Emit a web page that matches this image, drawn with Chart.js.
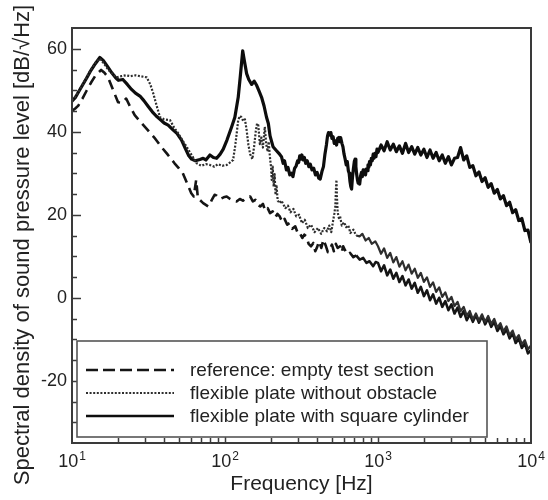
<!DOCTYPE html>
<html>
<head>
<meta charset="utf-8">
<script src="https://cdn.jsdelivr.net/npm/chart.js@4.4.0/dist/chart.umd.min.js"></script>
<style>
  html, body { margin: 0; padding: 0; background: #fff; }
  #wrap { width: 548px; height: 500px; }
</style>
</head>
<body>
<div id="wrap"><canvas id="grafico" width="548" height="500"></canvas></div>
<script>
// reference: empty test section (dashed)
var freqRef = [10,10.5,11,11.7,12.5,13.3,14.2,15.5,16.3,17.2,18.4,20,21.2,22.6,24,25.7,28,31.3,34.5,38.3,42,46.8,50,53,56.5,60.2,62.5,64.8,66.5,68.3,72,77.7,79.3,82,85.5,88.2,93,98,102.6,108,113,119,125,131,138,146,152,158,164,170,177,183,190,197,205,213,220,228,237,245,255,265,275,288,300,308,320,330,340,352,365,378,389,400,412,426,440,455,470,484,500,515,530,545,565,580,592,610,630,657,690,720,760,800,840,880,930,965,
  1000,1047,1096,1148,1202,1259,1318,1380,1445,1514,1585,1660,1738,1820,1905,1995,2089,2188,2291,2399,2512,2630,2754,2884,3020,3162,3311,3467,3631,3802,3981,4169,4365,4571,4786,5012,5248,5495,5754,6026,6310,6607,6918,7244,7586,7943,8318,8710,9120,9550,10000];
var splRef = [45.0,45.6,46.3,48.0,50.0,51.8,53.5,54.9,54.2,53.1,50.4,47.1,47.0,48.0,46.0,44.0,42.4,40.4,38.6,36.4,34.6,32.4,31.2,30.0,27.6,25.2,24.4,28.4,24.0,23.6,22.8,22.0,22.4,23.6,24.8,24.6,23.8,24.2,24.4,23.8,23.4,23.2,23.8,23.4,24.0,24.4,23.2,23.6,22.4,22.0,22.6,21.0,21.6,20.4,20.8,19.4,20.2,19.6,18.2,19.0,17.6,18.0,16.6,17.2,15.4,15.6,14.4,15.2,14.8,13.0,12.4,13.2,11.2,12.2,13.6,12.0,14.0,12.6,11.0,11.6,12.8,11.2,13.0,12.0,12.4,11.0,12.4,11.4,10.4,10.8,9.8,10.2,9.2,9.6,8.4,8.8,7.6,8.6,
  8.4,6.4,7.8,5.4,6.8,4.6,6.0,3.8,5.2,3.0,4.4,2.2,3.6,1.2,2.6,0.4,1.8,-0.6,0.8,-1.4,0.0,-2.2,-0.8,-3.0,-1.6,-3.8,-2.4,-4.6,-3.2,-5.4,-4.0,-5.8,-4.2,-6.0,-4.4,-6.4,-5.0,-7.0,-5.8,-8.0,-6.8,-8.8,-7.6,-9.8,-8.6,-10.9,-9.8,-12.1,-11.0,-13.4,-12.6];

// flexible plate without obstacle (dotted)
var freqPlate = [10,10.5,11,11.7,12.5,13.3,14.2,15.2,16.2,17.2,18.3,19.6,21,22.5,24,26,28,30.8,32.5,34,35.8,37.6,40,43.7,46.5,49.5,53,56.3,60,65.3,70,75,79.7,85,90,96,102.7,108,113,117,122,125,128,131.5,135,138.5,142,146,151,155,159,162,165,169,173,177,182,186,190,193,197,200,202,205,208,211,214,217,221,228,234,240,248,258,268,280,292,305,318,332,348,365,385,405,425,445,464,480,495,508,518,526,531,535,539,545,555,565,580,600,620,640,660,690,720,760,790,830,870,910,960,
  1000,1047,1096,1148,1202,1259,1318,1380,1445,1514,1585,1660,1738,1820,1905,1995,2089,2188,2291,2399,2512,2630,2754,2884,3020,3162,3311,3467,3631,3802,3981,4169,4365,4571,4786,5012,5248,5495,5754,6026,6310,6607,6918,7244,7586,7943,8318,8710,9120,9550,10000];
var splPlate = [47.6,48.4,49.6,51.3,53.2,55.0,56.6,57.6,56.4,55.0,54.0,53.1,53.4,53.6,53.4,53.6,53.4,53.1,51.4,49.2,46.2,43.5,43.0,42.8,41.0,39.6,37.8,36.3,34.6,32.4,31.8,32.2,32.0,31.6,32.2,31.8,32.0,32.6,33.2,37.0,42.8,43.8,43.5,42.6,43.0,40.4,37.0,34.6,33.4,36.5,40.2,42.0,41.6,37.0,38.6,36.2,41.2,37.0,35.2,37.6,33.6,31.4,28.4,31.6,26.8,29.8,24.8,27.2,23.4,22.8,23.4,22.6,21.6,22.2,20.6,21.4,19.6,20.0,18.0,18.8,16.8,17.6,15.8,16.8,15.4,16.8,16.0,17.4,15.8,18.4,20.2,22.0,26.0,28.4,24.4,20.6,19.2,19.6,17.4,18.2,17.0,17.4,15.6,16.4,15.0,14.8,15.4,13.8,14.4,13.0,13.6,12.4,
  10.6,11.9,9.6,10.8,8.5,9.8,7.5,8.8,6.6,8.0,5.8,7.0,4.8,6.0,3.8,4.9,2.6,3.7,1.4,2.5,0.2,1.3,-0.8,0.2,-2.0,-1.0,-3.2,-2.2,-4.3,-3.2,-5.2,-3.8,-5.5,-4.0,-5.8,-4.4,-6.3,-5.1,-7.2,-6.1,-8.1,-6.9,-9.0,-7.9,-10.0,-9.0,-11.2,-10.2,-12.4,-11.5,-13.8];

// flexible plate with square cylinder (solid)
var freqCyl = [10,10.5,11,11.7,12.5,13.3,14.2,15.2,16,17,18.2,19.3,20.1,21.5,23,24.5,26,27.8,29.5,31.5,33.5,35.5,37.6,40,42.5,45.9,48.5,52,55,58,60.5,64,68.6,72,75,79.7,84,88.2,93,97.4,103,110.6,116,122,126,130.5,134,138.5,143,149.4,155,161,167,173.4,180,186.8,192,197,206,215,225,
  234,240,245,252,258,265,272,278,285,292,298,303,308,313,318,324,330,337,345,353,361,370,380,390,400,410,419,430,440,450,460,468,475,485,492,500,509,518,527,536,545,555,563,570,581,590,600,610,620,630,640,648,656,664,672,681,690,700,709,717,725,734,742,750,759,770,780,790,800,810,820,829,838,849,860,870,880,892,905,917,930,943,956,970,985,
  1000,1047,1096,1148,1202,1259,1318,1380,1445,1514,1585,1660,1738,1820,1905,1995,2089,2188,2291,2399,2512,2630,2754,2884,3020,3162,3311,3467,3631,3802,3981,4169,4365,4571,4786,5012,5248,5495,5754,6026,6310,6607,6918,7244,7586,7943,8318,8710,9120,9550,10000];
var splCyl = [47.4,48.2,49.5,51.2,53.0,54.8,56.4,57.9,57.2,55.8,54.2,53.0,52.4,52.6,51.4,50.2,49.3,48.6,47.5,46.1,44.8,43.8,43.0,42.1,41.6,40.4,39.6,38.0,36.0,34.2,33.4,33.0,33.3,33.6,33.2,34.4,33.8,33.6,34.6,35.8,38.0,41.2,43.5,48.3,53.5,59.5,57.0,54.0,52.6,51.4,52.2,51.2,49.8,48.3,46.2,43.5,42.0,39.0,36.4,35.6,34.8,
  34.0,32.4,33.0,30.8,31.4,29.6,30.0,29.2,31.2,31.8,33.0,32.6,34.2,33.4,34.4,33.2,33.8,32.4,33.0,31.6,32.2,30.8,31.2,29.6,30.2,28.8,28.6,30.4,31.6,34.6,36.8,39.0,39.8,39.2,39.8,38.4,38.8,37.2,37.8,36.8,38.4,38.6,37.6,38.6,37.2,36.4,34.6,33.4,32.0,32.8,30.6,30.0,28.0,26.8,26.2,29.0,31.0,32.8,33.4,31.6,29.8,28.4,27.6,28.2,27.4,29.4,30.2,29.2,30.8,29.8,30.4,29.6,31.0,30.6,32.0,31.4,32.8,32.0,33.6,33.0,34.6,33.6,34.8,34.0,35.8,
  35.0,36.8,35.4,37.6,35.6,37.0,35.2,36.6,34.8,37.2,35.0,36.4,34.6,36.2,34.4,35.8,33.8,35.6,33.6,35.0,33.0,34.4,32.4,34.0,32.0,33.6,33.8,36.2,33.2,34.2,31.4,31.8,29.4,30.3,28.0,28.9,26.6,27.5,25.2,26.1,23.8,24.6,22.2,23.0,20.5,21.2,18.6,19.1,16.2,16.3,13.2];

var yTickValues = [-20, 0, 20, 40, 60];
var xDecades = [10, 100, 1000, 10000];
var xExponents = ['1', '2', '3', '4'];
var legendLabels = ['reference: empty test section', 'flexible plate without obstacle', 'flexible plate with square cylinder'];

var fuente = '"Liberation Sans", Arial, Helvetica, sans-serif';
var tinta = '#222';

function pares(fs, vs) {
  return fs.map(function (f, i) { return { x: f, y: vs[i] }; });
}

var estilos = [
  { color: '#151515', width: 2.6, dash: [10, 6] },
  { color: '#2e2e2e', width: 2.2, dash: [2, 1.6] },
  { color: '#0d0d0d', width: 3.2, dash: [] }
];

// above ~700 Hz the measured spectra are so dense that dashes merge into one band
function trazoDenso(dash) {
  return function (c) { return c.p0.parsed.x >= 700 ? [] : dash; };
}

var marco = {
  id: 'marco',
  afterDraw: function (chart) {
    var ctx = chart.ctx, a = chart.chartArea;
    var xs = chart.scales.x, ys = chart.scales.y;
    ctx.save();

    // frame
    ctx.strokeStyle = '#3a3a3a';
    ctx.lineWidth = 2;
    ctx.strokeRect(a.left, a.top, a.right - a.left, a.bottom - a.top);

    // y ticks (inward), minor every 5
    ctx.lineWidth = 1.5;
    for (var v = -30; v <= 60; v += 5) {
      var py = Math.round(ys.getPixelForValue(v)) + 0.5;
      var len = yTickValues.indexOf(v) >= 0 ? 9 : 5;
      ctx.beginPath(); ctx.moveTo(a.left, py); ctx.lineTo(a.left + len, py); ctx.stroke();
    }

    // x ticks (inward)
    for (var d = 0; d < 3; d++) {
      for (var m = 1; m <= 9; m++) {
        var f = xDecades[d] * m;
        var px = Math.round(xs.getPixelForValue(f)) + 0.5;
        var l = m === 1 ? 9 : 5;
        if (m === 1 && d === 0) continue;
        ctx.beginPath(); ctx.moveTo(px, a.bottom); ctx.lineTo(px, a.bottom - l); ctx.stroke();
      }
    }

    // x tick labels: 10 with superscript
    ctx.fillStyle = tinta;
    ctx.textBaseline = 'alphabetic';
    xDecades.forEach(function (f, i) {
      var cx = xs.getPixelForValue(f);
      ctx.font = '18px ' + fuente;
      var w1 = ctx.measureText('10').width;
      ctx.font = '12px ' + fuente;
      var w2 = ctx.measureText(xExponents[i]).width;
      var x0 = cx - (w1 + w2 + 1) / 2;
      ctx.font = '18px ' + fuente;
      ctx.textAlign = 'left';
      ctx.fillText('10', x0, 467);
      ctx.font = '12px ' + fuente;
      ctx.fillText(xExponents[i], x0 + w1 + 1, 460);
    });

    // axis titles
    ctx.font = '21px ' + fuente;
    ctx.textAlign = 'center';
    ctx.fillText('Frequency [Hz]', (a.left + a.right) / 2, 490);

    ctx.save();
    ctx.translate(23, 245);
    ctx.rotate(-Math.PI / 2);
    ctx.font = '22px ' + fuente;
    ctx.textBaseline = 'middle';
    ctx.fillText('Spectral density of sound pressure level [dB/\u221AHz]', 0, 0);
    ctx.restore();

    // legend box inside plot
    var bx = 77, by = 341, bw = 410, bh = 96;
    ctx.fillStyle = '#fff';
    ctx.fillRect(bx, by, bw, bh);
    ctx.strokeStyle = '#555';
    ctx.lineWidth = 1.6;
    ctx.strokeRect(bx, by, bw, bh);
    var filas = [370, 393, 416];
    [0, 1, 2].forEach(function (k, i) {
      var s = estilos[k];
      ctx.strokeStyle = s.color;
      ctx.lineWidth = k === 2 ? 2.6 : s.width;
      ctx.setLineDash(k === 0 ? [12, 5] : s.dash);
      ctx.beginPath(); ctx.moveTo(86, filas[i]); ctx.lineTo(174, filas[i]); ctx.stroke();
      ctx.setLineDash([]);
      ctx.fillStyle = tinta;
      ctx.font = '19px ' + fuente;
      ctx.textAlign = 'left';
      ctx.textBaseline = 'middle';
      ctx.fillText(legendLabels[k], 190, filas[i] + 1);
    });

    ctx.restore();
  }
};

var contexto = document.getElementById('grafico').getContext('2d');
var myChart = new Chart(contexto, {
  type: 'line',
  data: {
    datasets: [
      { label: legendLabels[1], data: pares(freqPlate, splPlate), borderColor: estilos[1].color, borderWidth: estilos[1].width, borderDash: estilos[1].dash,
        segment: { borderDash: trazoDenso(estilos[1].dash) } },
      { label: legendLabels[0], data: pares(freqRef, splRef), borderColor: estilos[0].color, borderWidth: estilos[0].width, borderDash: estilos[0].dash,
        segment: { borderDash: trazoDenso(estilos[0].dash) } },
      { label: legendLabels[2], data: pares(freqCyl, splCyl), borderColor: estilos[2].color, borderWidth: estilos[2].width, borderDash: estilos[2].dash }
    ]
  },
  options: {
    responsive: false,
    animation: false,
    events: [],
    layout: { padding: { left: 0, right: 17, top: 28, bottom: 0 } },
    elements: { point: { radius: 0 }, line: { tension: 0, fill: false, borderJoinStyle: 'round' } },
    plugins: { legend: { display: false }, title: { display: false }, tooltip: { enabled: false } },
    scales: {
      x: {
        type: 'logarithmic',
        min: 10, max: 10000,
        grid: { display: false },
        border: { display: false },
        ticks: { display: false },
        afterFit: function (s) { s.height = 57; }
      },
      y: {
        min: -35, max: 65,
        grid: { display: false, drawTicks: false },
        border: { display: false },
        afterBuildTicks: function (s) { s.ticks = yTickValues.map(function (v) { return { value: v }; }); },
        ticks: {
          padding: 5,
          color: tinta,
          font: { family: fuente, size: 18 },
          callback: function (v) { return v; }
        },
        afterFit: function (s) { s.width = 72; }
      }
    }
  },
  plugins: [marco]
});
</script>
</body>
</html>
